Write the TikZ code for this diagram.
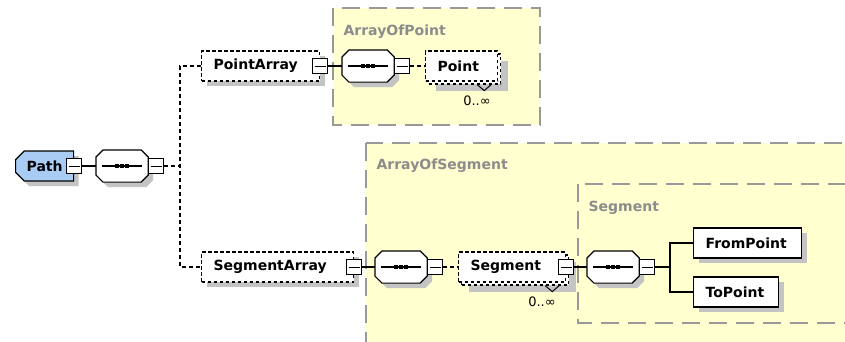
\documentclass[tikz,border=0pt]{standalone}
\usepackage{fontspec}
\setmainfont{DejaVu Sans}
\usetikzlibrary{shapes.misc, shadows, calc, positioning}
\definecolor{xblue}{HTML}{A8CCF4}
\definecolor{xyellow}{HTML}{FFFFD0}
\definecolor{xgrey}{HTML}{999999}
\definecolor{xlabel}{HTML}{8C8C8C}
\definecolor{xshadow}{HTML}{C4C4C4}
\tikzset{
  every picture/.style={x=1pt, y=-1pt, line width=1.2pt},
  lbl/.style={font=\fontsize{14}{16}\selectfont\bfseries},
  shade/.style={drop shadow={shadow xshift=#1, shadow yshift=-#1, fill=xshadow, opacity=1}},
  shade/.default=5pt,
  base/.style={lbl, draw, fill=white, align=left, text width=#1, inner xsep=12pt, inner ysep=0pt, minimum height=30pt, anchor=west},
  elem/.style={base=#1, shade},
  optelem/.style={base=#1, shade, dash pattern=on 3.5pt off 2.5pt},
  multielem/.style={base=#1, dash pattern=on 3.5pt off 2.5pt, shade=10pt,
    copy shadow={shadow xshift=3pt, shadow yshift=-3pt, draw=black, fill=white}},
  seqbox/.style={minimum width=51pt, minimum height=31pt, inner sep=0pt, anchor=west},
  seqpath/.style={insert path={([xshift=7pt]#1.north west) -- ([xshift=-7pt]#1.north east)
    -- ([yshift=-7pt]#1.north east) -- ([yshift=7pt]#1.south east) -- ([xshift=-7pt]#1.south east)
    -- ([xshift=7pt]#1.south west) -- ([yshift=7pt]#1.south west) -- ([yshift=-7pt]#1.north west) -- cycle}},
  minus/.style={draw, fill=white, minimum size=15pt, inner sep=0pt,
    path picture={\draw[line width=1pt] ([xshift=2pt]path picture bounding box.west) -- ([xshift=-2pt]path picture bounding box.east);}},
  link/.style={line width=1.5pt},
  optlink/.style={link, dash pattern=on 4pt off 3pt},
  region/.style={fill=xyellow, draw=xgrey, line width=1.6pt, dash pattern=on 18pt off 9pt},
  regionlbl/.style={lbl, text=xlabel, anchor=base west, inner sep=0pt},
  occ/.style={font=\fontsize{13}{15}\selectfont, inner sep=0pt},
  notch/.style={line width=1pt},
}

\begin{document}
\begin{tikzpicture}
  \useasboundingbox (0,0) rectangle (845,341);
  \fill[white] (0,0) rectangle (845,341);
  \clip (0,0) rectangle (845,341);
  % complex type boxes
  \draw[region] (333,8) rectangle (540,125);
  \node[regionlbl] (arrayofpoint) at (343,35) {ArrayOfPoint};
  \draw[region] (366,143) rectangle (880,380);
  \node[regionlbl] (arrayofsegment) at (376,169) {ArrayOfSegment};
  \draw[region] (578,184) rectangle (870,323);
  \node[regionlbl] (segmenttype) at (588,211) {Segment};

  % elements
  \node[lbl, chamfered rectangle, chamfered rectangle corners={north west, south west}, chamfered rectangle xsep=5pt,
    draw, fill=xblue, shade, minimum width=58pt, minimum height=30pt, inner sep=0pt, anchor=west] (path) at (15,166) {Path};
  \node[optelem=94pt] (pointarray) at (201,66) {PointArray};
  \node[multielem=48pt] (point) at (425,66) {Point};
  \node[occ] (pointocc) at (477,101) {0..∞};
  \node[optelem=128pt] (segmentarray) at (201,267) {SegmentArray};
  \node[multielem=83pt] (segment) at (458,267) {Segment};
  \node[occ] (segmentocc) at (542,302) {0..∞};
  \node[elem=84pt] (frompoint) at (693,243) {FromPoint};
  \node[elem=61pt] (topoint) at (693,292) {ToPoint};
  \draw[notch] ($(point.south east)+(-21,3)$) -- ++(7,6) -- ++(7,-6);
  \draw[notch] ($(segment.south east)+(-21,3)$) -- ++(7,6) -- ++(7,-6);

  % sequence compositors
  \node[seqbox] (seq1) at (96,166) {};
  \node[seqbox] (seq2) at (342,66) {};
  \node[seqbox] (seq3) at (375,267) {};
  \node[seqbox] (seq4) at (587,267) {};
  \foreach \s in {seq1,seq2,seq3,seq4} {
    \fill[xshadow, transform canvas={shift={(5pt,-5pt)}}, seqpath=\s];
    \draw[fill=white, seqpath=\s];
    \draw ([xshift=6pt]\s.west) -- ([xshift=-6pt]\s.east);
    \foreach \k in {-5,0,5} \fill ($(\s.center)+(\k,0)$) +(-2.2,-2) rectangle +(2.2,2);
    \node[minus, anchor=west] (\s m) at (\s.east) {};
  }
  \foreach \e in {path,pointarray,segmentarray,segment}
    \node[minus] (\e m) at (\e.east) {};

  \coordinate (fork) at (180,166);
  \coordinate (branch) at (670,267);
  \draw[link] (pathm) -- (seq1);
  \draw[optlink] (seq1m) -- (fork);
  \draw[optlink] (pointarray.west) -| (fork) |- (segmentarray.west);
  \draw[link] (pointarraym) -- (seq2);
  \draw[optlink] (seq2m) -- (point);
  \draw[link] (segmentarraym) -- (seq3);
  \draw[optlink] (seq3m) -- (segment);
  \draw[link] (segmentm) -- (seq4);
  \draw[link] (seq4m) -- (branch);
  \draw[link] (frompoint.west) -| (branch) |- (topoint.west);
\end{tikzpicture}
\end{document}
